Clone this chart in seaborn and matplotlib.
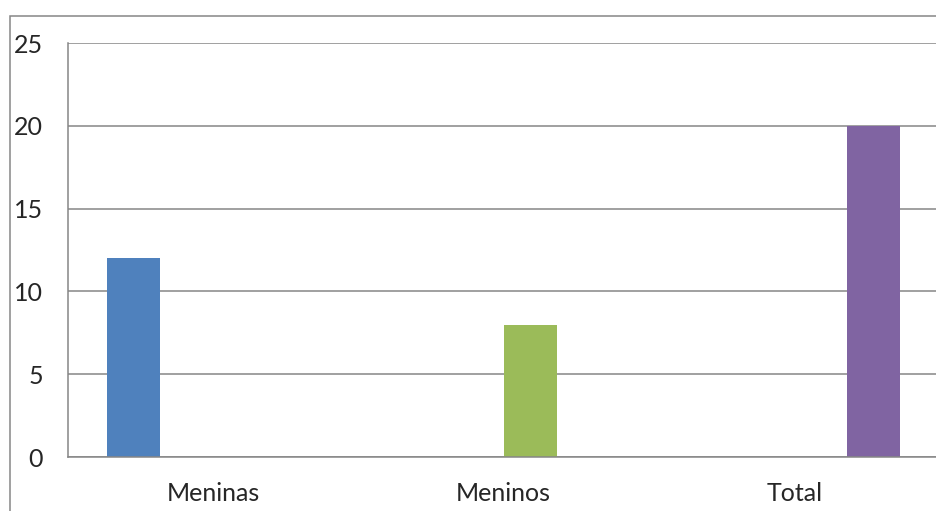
import pandas as pd
import matplotlib.pyplot as plt
import seaborn as sns
from matplotlib.patches import Rectangle

# chart data
categories = ["Meninas", "Meninos", "Total"]
series_names = ["Série 1", "Série 2", "Série 3", "Série 4"]
serie1 = [12, 0, 0]
serie2 = [0, 0, 0]
serie3 = [0, 8, 0]
serie4 = [0, 0, 20]
y_ticks = [0, 5, 10, 15, 20, 25]

colors = ["#4F81BD", "#C0504D", "#9BBB59", "#8064A2"]
grey = "#868686"

rows = []
for name, vals in zip(series_names, [serie1, serie2, serie3, serie4]):
    for cat, v in zip(categories, vals):
        rows.append({"categoria": cat, "serie": name, "valor": v})
df = pd.DataFrame(rows)

sns.set_style("white")
plt.rcParams['font.family'] = ['Lato', 'DejaVu Sans']

fig = plt.figure(figsize=(9.36, 5.11), dpi=100)
# axes runs past the right edge of the picture, like the cropped original
ax = fig.add_axes([68 / 936, 1 - 457 / 511, 871.5 / 936, 414 / 511])

sns.barplot(data=df, x="categoria", y="valor", hue="serie",
            order=categories, hue_order=series_names, palette=colors,
            width=0.73, gap=0, linewidth=0, saturation=1, ax=ax, legend=False)

ax.set_xlim(-0.5, 2.5)
ax.set_ylim(0, 25)
ax.set_yticks(y_ticks)
ax.set_xlabel("")
ax.set_ylabel("")

# category boundaries as ticks, names in between
ax.set_xticks([-0.5, 0.5, 1.5, 2.5])
ax.set_xticklabels([])
ax.set_xticks([0, 1, 2], minor=True)
ax.set_xticklabels(categories, minor=True)
ax.tick_params(axis="x", which="major", length=5, width=1.1, color=grey, direction="out")
ax.tick_params(axis="x", which="minor", length=0, pad=18, labelsize=18)
ax.tick_params(axis="y", length=6, width=1.1, color=grey, direction="out",
               pad=12, labelsize=18)

ax.grid(axis="y", color=grey, linewidth=1.1)
ax.set_axisbelow(True)
for side in ["top", "right"]:
    ax.spines[side].set_visible(False)
for side in ["left", "bottom"]:
    ax.spines[side].set_color(grey)
    ax.spines[side].set_linewidth(1.1)

# outer chart frame
fig.patches.append(Rectangle((10 / 936, -0.1), 1.0, 1 - 16 / 511 + 0.1,
                             transform=fig.transFigure, fill=False,
                             edgecolor=grey, linewidth=1.1))

fig.savefig("out.png", dpi=100)
